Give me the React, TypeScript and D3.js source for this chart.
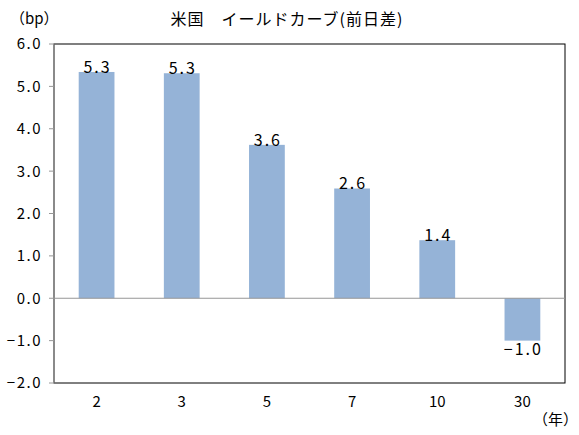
import React from "react";
import * as d3 from "d3";

const categories = ["2", "3", "5", "7", "10", "30"];
const values = [5.34, 5.31, 3.62, 2.59, 1.37, -1.0];
const yTicks = [6, 5, 4, 3, 2, 1, 0, -1, -2];
const title = "米国　イールドカーブ(前日差)";
const yUnit = "（bp）";
const xUnit = "（年）";

const W = 579, H = 435;
const left = 54, right = 565, top = 44, bottom = 383;
const font = "'Noto Sans CJK JP', sans-serif";

export default function App() {
  const x = d3.scaleBand().domain(categories).range([left, right]).paddingInner(0.58).paddingOuter(0.29);
  const y = d3.scaleLinear().domain([-2, 6]).range([bottom, top]);
  const fmt = d3.format(".1f");
  return (
    <svg width={W} height={H} style={{ position: "absolute", left: 0, top: 0, background: "#fff" }}>
      <rect x={left} y={top} width={right - left} height={bottom - top} fill="none" stroke="#000" strokeWidth={1} />
      {values.map((v, i) => (
        <rect key={i} x={x(categories[i])!} width={x.bandwidth()} y={y(Math.max(0, v))}
          height={Math.abs(y(v) - y(0))} fill="#95B3D7" />
      ))}
      <line x1={left} x2={right} y1={y(0)} y2={y(0)} stroke="#969696" strokeWidth={1} />
      <line x1={left} x2={left} y1={top} y2={bottom} stroke="#969696" strokeWidth={1} />
      {yTicks.map((t) => (
        <g key={t}>
          <line x1={left - 5} x2={left} y1={y(t)} y2={y(t)} stroke="#969696" />
          <text x={42} y={y(t)} dy="0.36em" textAnchor="end" fontFamily={font} fontSize={15} letterSpacing={1.5}>{fmt(t)}</text>
        </g>
      ))}
      {categories.map((c) => (
        <text key={c} x={x(c)! + x.bandwidth() / 2} y={407} textAnchor="middle" fontFamily={font} fontSize={15}>{c}</text>
      ))}
      {values.map((v, i) => (
        <text key={i} x={x(categories[i])! + x.bandwidth() / 2 + 1} y={v >= 0 ? y(v) + 1 : y(v) + 14}
          textAnchor="middle" fontFamily={font} fontSize={16} letterSpacing={2}>{fmt(v)}</text>
      ))}
      <text x={10} y={24} fontFamily={font} fontSize={15}>{yUnit}</text>
      <text x={287} y={25} textAnchor="middle" fontFamily={font} fontSize={16} letterSpacing={1}>{title}</text>
      <text x={578} y={425} textAnchor="end" fontFamily={font} fontSize={15}>{xUnit}</text>
    </svg>
  );
}
